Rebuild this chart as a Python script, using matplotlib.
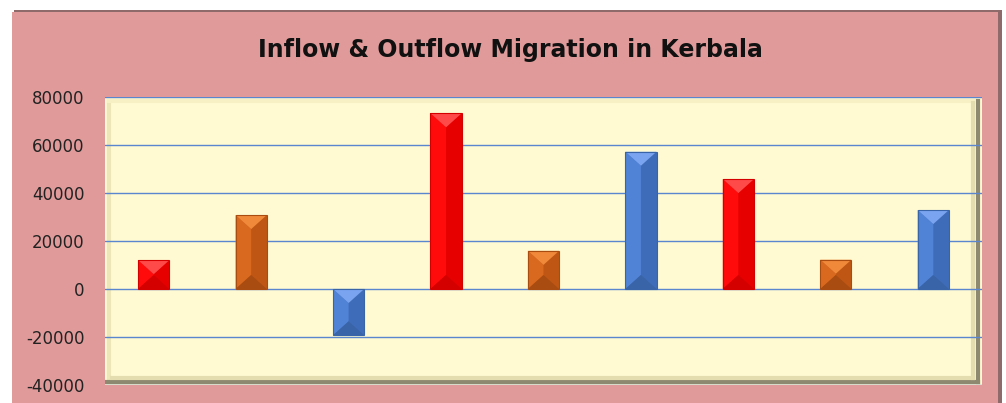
import matplotlib.pyplot as plt
from matplotlib.patches import Polygon, Rectangle
from matplotlib.lines import Line2D

# values (9 bars, no category labels shown)
values = [12000, 30800, -19300, 73200, 15900, 57200, 45800, 12200, 32900]
kinds = ["red", "orange", "blue", "red", "orange", "blue", "red", "orange", "blue"]
yticks = [-40000, -20000, 0, 20000, 40000, 60000, 80000]

# facet colours: (left, right, top, bottom)
shades = {
    "red": ("#ff0b0b", "#e60000", "#ff4a4a", "#d40000"),
    "orange": ("#d8691f", "#bf5614", "#f0893a", "#a84c12"),
    "blue": ("#5082d6", "#3f6cb8", "#7aa4f0", "#3a64a8"),
}

fig = plt.figure(figsize=(10.06, 4.03), dpi=100)
fig.patch.set_facecolor("white")

# outer pink chart area with a little shadow
fig.add_artist(Rectangle((14 / 1006, 0), 988 / 1006, 1 - 10 / 403,
                         transform=fig.transFigure, facecolor="#8f6a6a",
                         edgecolor="none", zorder=-10))
fig.add_artist(Rectangle((12 / 1006, 0), 986 / 1006, 1 - 12 / 403,
                         transform=fig.transFigure, facecolor="#e09a9a",
                         edgecolor="none", zorder=-9))

ax = fig.add_axes([105 / 1006, 1 - 385 / 403, 877 / 1006, 288 / 403])
ax.set_facecolor("#fffad2")

x = list(range(len(values)))
bars = ax.bar(x, values, width=0.32, color=[shades[k][1] for k in kinds],
              edgecolor="none", zorder=3)

ax.set_xlim(-0.5, len(values) - 0.5)
ax.set_ylim(-40000, 80000)
ax.set_yticks(yticks)
ax.set_yticklabels([str(t) for t in yticks], fontsize=12, color="#222222")
ax.tick_params(axis="y", length=0, pad=14.5)
ax.set_xticks([])
for t in yticks:
    ax.axhline(t, color="#5a86d0", linewidth=1.0, zorder=2.5)
for s in ax.spines.values():
    s.set_visible(False)

# bevel facets on each bar, built from the bar geometry
units_per_px = 120000 / 288
for b, k in zip(bars, kinds):
    left, right, top, bottom = shades[k]
    x0 = b.get_x()
    x1 = x0 + b.get_width()
    cx = (x0 + x1) / 2
    y0 = b.get_y()
    y1 = y0 + b.get_height()
    lo, hi = min(y0, y1), max(y0, y1)
    d = min(14 * units_per_px, (hi - lo) / 2)
    ax.add_patch(Polygon([(x0, lo), (cx, lo + d), (cx, hi - d), (x0, hi)],
                         facecolor=left, edgecolor="none", zorder=4))
    ax.add_patch(Polygon([(x0, hi), (x1, hi), (cx, hi - d)],
                         facecolor=top, edgecolor="none", zorder=4))
    ax.add_patch(Polygon([(x0, lo), (x1, lo), (cx, lo + d)],
                         facecolor=bottom, edgecolor="none", zorder=4))
    ax.add_patch(Rectangle((x0, lo), x1 - x0, hi - lo, facecolor="none",
                           edgecolor=bottom, linewidth=0.8, zorder=5))

# bevelled frame of the plot area
ax.add_line(Line2D([0.004, 0.004], [0.02, 0.985], transform=ax.transAxes,
                   color="#ede6b8", linewidth=3, zorder=2))
ax.add_line(Line2D([0.004, 0.99], [0.985, 0.985], transform=ax.transAxes,
                   color="#f6f0c4", linewidth=3, zorder=2))
ax.add_line(Line2D([0.0, 0.995], [0.012, 0.012], transform=ax.transAxes,
                   color="#8d8870", linewidth=3, zorder=2))
ax.add_line(Line2D([0.995, 0.995], [0.012, 0.985], transform=ax.transAxes,
                   color="#8d8870", linewidth=3, zorder=2))
ax.add_line(Line2D([0.008, 0.99], [0.025, 0.025], transform=ax.transAxes,
                   color="#e3ddb0", linewidth=3, zorder=2))
ax.add_line(Line2D([0.99, 0.99], [0.025, 0.98], transform=ax.transAxes,
                   color="#e3ddb0", linewidth=3, zorder=2))

fig.text(510 / 1006, 1 - 50 / 403, "Inflow & Outflow Migration in Kerbala",
         ha="center", va="center", fontsize=17, fontweight="bold",
         color="#111111")

fig.savefig("out.png", dpi=100, facecolor=fig.get_facecolor())
plt.close(fig)
